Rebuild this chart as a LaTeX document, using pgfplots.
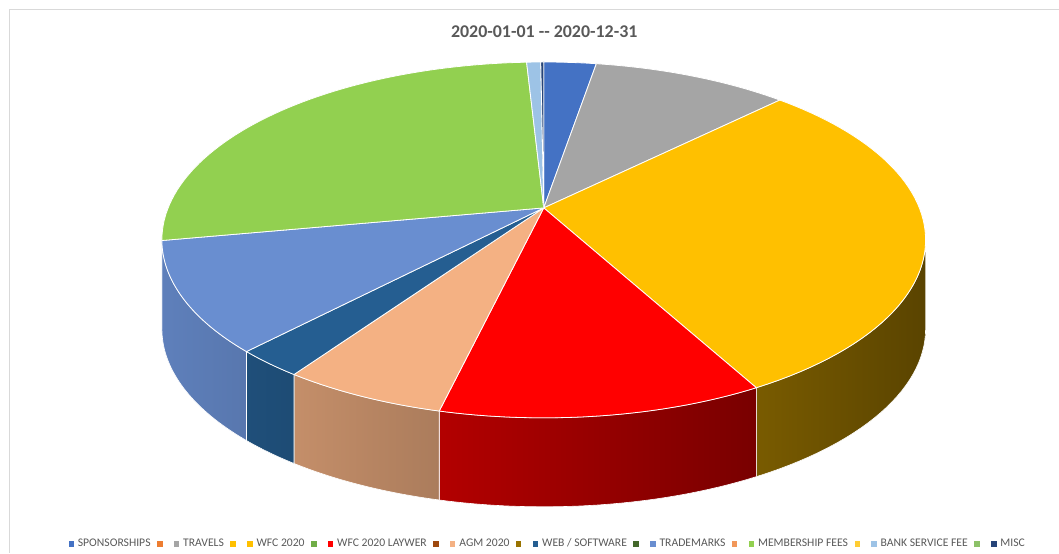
\documentclass[border=0pt]{standalone}
\usepackage{pgfplots}
\pgfplotsset{compat=1.18}
\usepackage{pgfplotstable}
\usepackage{fontspec}
\setmainfont{Carlito}

\definecolor{cSpon}{HTML}{4472C4}
\definecolor{cTrav}{HTML}{A5A5A5}
\definecolor{cWfc}{HTML}{FFC000}
\definecolor{cLay}{HTML}{FF0000}
\definecolor{cAgm}{HTML}{F4B183}
\definecolor{cWeb}{HTML}{255E91}
\definecolor{cTrade}{HTML}{698ED0}
\definecolor{cMem}{HTML}{92D050}
\definecolor{cBank}{HTML}{9DC3E6}
\definecolor{cMisc}{HTML}{264478}
\definecolor{lOr}{HTML}{ED7D31}
\definecolor{lYe}{HTML}{FFC000}
\definecolor{lGr}{HTML}{70AD47}
\definecolor{lBr}{HTML}{9E480E}
\definecolor{lOl}{HTML}{997300}
\definecolor{lDg}{HTML}{43682B}
\definecolor{lOr2}{HTML}{F1975A}
\definecolor{lYe2}{HTML}{FFCD33}
\definecolor{lGr2}{HTML}{8CC168}
\definecolor{txt}{HTML}{595959}
\definecolor{frame}{HTML}{D9D9D9}

\pgfplotstableread[col sep=comma]{
name,value,color
SPONSORSHIPS,2.64,cSpon
TRAVELS,9.90,cTrav
WFC 2020,29.60,cWfc
WFC 2020 LAYWER,11.60,cLay
AGM 2020,5.90,cAgm
WEB / SOFTWARE,2.50,cWeb
TRADEMARKS,10.00,cTrade
MEMBERSHIP FEES,27.10,cMem
BANK SERVICE FEE,0.71,cBank
MISC,0.15,cMisc
}\piedata

\newcommand\sq[1]{\addlegendimage{legend image code/.code={\fill[#1] (0bp,-2.2bp) rectangle (4.4bp,2.2bp);}}}
\newcommand\topwedge[3]{\filldraw[fill=#3,draw=white,line width=0.8bp,line join=round] (544,345) -- plot[domain=#1:#2,samples=60,variable=\t] ({px(\t)},{py(\t)}) -- cycle;}
\newcommand\sideband[4]{\shadedraw[left color=#3,right color=#4,draw=white,line width=0.6bp,line join=round] plot[domain=#1:#2,samples=30,variable=\t] ({px(\t)},{py(\t)}) -- plot[domain=#2:#1,samples=30,variable=\t] ({px(\t)},{py(\t)-89}) -- cycle;}

\begin{document}
\begin{tikzpicture}[declare function={
  dd(\t)=1-0.18*sin(\t);
  px(\t)=544+375.8*cos(\t)/dd(\t);
  py(\t)=313-(178*sin(\t)-32)/dd(\t);
}]
\pgfplotstablegetrowsof{\piedata}\pgfmathtruncatemacro\nrows{\pgfplotsretval-1}%
\def\total{0}%
\pgfplotsforeachungrouped \i in {0,...,\nrows}{%
  \pgfplotstablegetelem{\i}{value}\of\piedata
  \pgfmathsetmacro\total{\total+\pgfplotsretval}%
}%
\def\cum{0}\gdef\topcmds{}\gdef\sidecmds{}%
\pgfplotsforeachungrouped \i in {0,...,\nrows}{%
  \pgfplotstablegetelem{\i}{value}\of\piedata
  \let\val\pgfplotsretval
  \pgfmathsetmacro\ta{-90+360*(\cum/\total)}%
  \pgfmathsetmacro\cum{\cum+\val}%
  \pgfmathsetmacro\tb{-90+360*(\cum/\total)}%
  \pgfmathsetmacro\sa{max(\ta,10.4)}%
  \pgfmathsetmacro\sb{min(\tb,169.6)}%
  \pgfmathsetmacro\fl{100*(0.9-0.55*((px(\sb)-160)/770))}%
  \pgfmathsetmacro\fr{100*(0.9-0.55*((px(\sa)-160)/770))}%
  \pgfplotstablegetelem{\i}{color}\of\piedata
  \edef\tmp{\noexpand\colorlet{top\i}{\pgfplotsretval}%
    \noexpand\colorlet{sl\i}{\pgfplotsretval!\fl!black}%
    \noexpand\colorlet{sr\i}{\pgfplotsretval!\fr!black}}\tmp
  \xdef\topcmds{\unexpanded\expandafter{\topcmds}\noexpand\topwedge{\ta}{\tb}{top\i}}%
  \pgfmathtruncatemacro\hasside{\sb>\sa+0.01 ? 1 : 0}%
  \ifnum\hasside=1
    \xdef\sidecmds{\unexpanded\expandafter{\sidecmds}\noexpand\sideband{\sa}{\sb}{sl\i}{sr\i}}%
  \fi
}%
\begin{axis}[width=1059bp,height=553bp,scale only axis,
  xmin=0,xmax=1059,ymin=0,ymax=553,hide axis,clip=false,
  legend columns=-1,
  legend style={at={(0.5165,0.0165)},anchor=center,draw=none,fill=none,
    font=\fontsize{11.7}{14}\selectfont,text=txt,
    cells={anchor=west},nodes={inner sep=0pt,text depth=0.15em},
    /tikz/every odd column/.append style={column sep=4.5bp},
    /tikz/every even column/.append style={column sep=6.5bp}},
]
\path (0,0) rectangle (1059,553);
\draw[frame,line width=1bp] (10,0) -- (10,543) -- (1059,543);
\node[font=\fontsize{18}{20}\selectfont\bfseries,text=txt] at (544.5,521.5) {2020-01-01 -{}- 2020-12-31};
\sidecmds
\topcmds
\sq{cSpon}\addlegendentry{SPONSORSHIPS}
\sq{lOr}\addlegendentry{\mbox{}}
\sq{cTrav}\addlegendentry{TRAVELS}
\sq{lYe}\addlegendentry{\mbox{}}
\sq{cWfc}\addlegendentry{WFC 2020}
\sq{lGr}\addlegendentry{\mbox{}}
\sq{cLay}\addlegendentry{WFC 2020 LAYWER}
\sq{lBr}\addlegendentry{\mbox{}}
\sq{cAgm}\addlegendentry{AGM 2020}
\sq{lOl}\addlegendentry{\mbox{}}
\sq{cWeb}\addlegendentry{WEB / SOFTWARE}
\sq{lDg}\addlegendentry{\mbox{}}
\sq{cTrade}\addlegendentry{TRADEMARKS}
\sq{lOr2}\addlegendentry{\mbox{}}
\sq{cMem}\addlegendentry{MEMBERSHIP FEES}
\sq{lYe2}\addlegendentry{\mbox{}}
\sq{cBank}\addlegendentry{BANK SERVICE FEE}
\sq{lGr2}\addlegendentry{\mbox{}}
\sq{cMisc}\addlegendentry{MISC}
\end{axis}
\end{tikzpicture}
\end{document}
